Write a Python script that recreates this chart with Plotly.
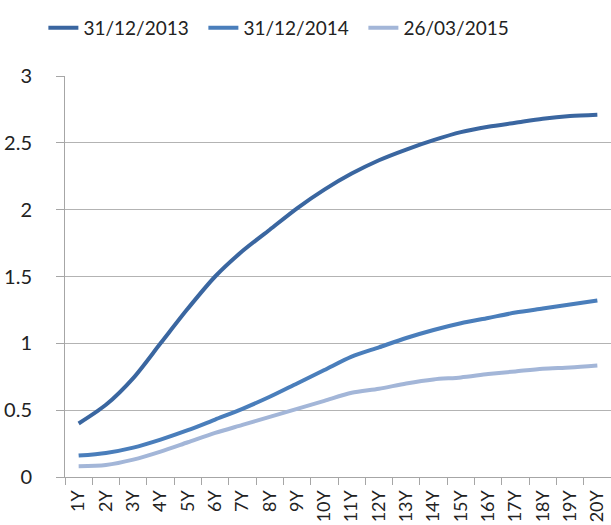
import plotly.graph_objects as go

categories = [f"{i}Y" for i in range(1, 21)]
s2013 = [0.40, 0.54, 0.74, 1.00, 1.26, 1.50, 1.69, 1.85, 2.01, 2.15, 2.27, 2.37, 2.45, 2.52, 2.58, 2.62, 2.65, 2.68, 2.70, 2.71]
s2014 = [0.16, 0.18, 0.22, 0.28, 0.35, 0.43, 0.51, 0.60, 0.70, 0.80, 0.90, 0.97, 1.04, 1.10, 1.15, 1.19, 1.23, 1.26, 1.29, 1.32]
s2015 = [0.08, 0.09, 0.13, 0.19, 0.26, 0.33, 0.39, 0.45, 0.51, 0.57, 0.63, 0.66, 0.70, 0.73, 0.745, 0.77, 0.79, 0.81, 0.82, 0.835]
names = ["31/12/2013", "31/12/2014", "26/03/2015"]
colors = ["#3A66A0", "#4A7EBB", "#A3B6D8"]

fig = go.Figure()
for name, vals, col in zip(names, [s2013, s2014, s2015], colors):
    fig.add_trace(go.Scatter(
        x=categories, y=vals, name=name, mode="lines",
        line=dict(color=col, width=4, shape="spline", smoothing=0.8),
    ))

fig.update_layout(
    width=611, height=525,
    margin=dict(l=65, r=0, t=76, b=48, autoexpand=False),
    plot_bgcolor="white", paper_bgcolor="white",
    font=dict(family="Lato, Carlito, Calibri, sans-serif", size=20, color="#222222"),
    showlegend=True,
    legend=dict(orientation="h", xref="container", x=0.071, xanchor="left",
                yref="container", y=0.947, yanchor="middle",
                font=dict(size=19), entrywidth=115, entrywidthmode="pixels",
                tracegroupgap=0, bgcolor="rgba(0,0,0,0)"),
    xaxis=dict(
        type="category", tickangle=-90, showgrid=False, automargin=False,
        showline=True, linecolor="#A6A6A6", linewidth=1,
        ticks="outside", ticklen=7, tickcolor="#A6A6A6", tickson="boundaries",
        tickfont=dict(size=18), range=[-0.5, 19.5], ticklabelstandoff=5,
    ),
    yaxis=dict(
        range=[0, 3], dtick=0.5, automargin=False,
        showgrid=True, gridcolor="#B3B3B3", gridwidth=1,
        showline=True, linecolor="#A6A6A6", linewidth=1,
        ticks="outside", ticklen=8, tickcolor="#A6A6A6",
        tickfont=dict(size=20), ticklabelstandoff=20, zeroline=False,
    ),
)

fig.write_html("out.html", config={"displayModeBar": False},
               post_script="document.body.style.margin='0';document.body.style.overflow='hidden';")
